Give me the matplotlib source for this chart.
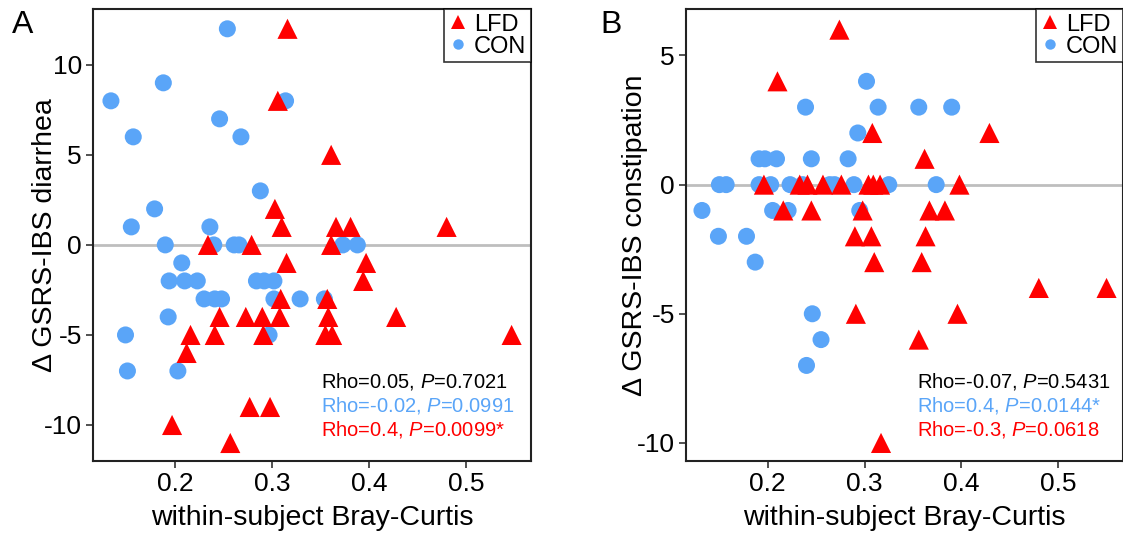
import matplotlib
matplotlib.use("Agg")
import matplotlib.pyplot as plt
from matplotlib.lines import Line2D

plt.rcParams['font.family'] = ['Liberation Sans', 'DejaVu Sans']
plt.rcParams['mathtext.fontset'] = 'custom'
plt.rcParams['mathtext.rm'] = 'Liberation Sans'
plt.rcParams['mathtext.it'] = 'Liberation Sans:italic'

# ---------- Panel A data (diarrhea) ----------
a_con_x = [0.254, 0.188, 0.134, 0.314, 0.246, 0.157, 0.268, 0.288, 0.179, 0.155,
           0.236, 0.190, 0.240, 0.261, 0.266, 0.373, 0.388, 0.207, 0.194, 0.210,
           0.223, 0.284, 0.292, 0.302, 0.230, 0.241, 0.248, 0.302, 0.329, 0.354,
           0.193, 0.149, 0.297, 0.151, 0.203]
a_con_y = [12, 9, 8, 8, 7, 6, 6, 3, 2, 1,
           1, 0, 0, 0, 0, 0, 0, -1, -2, -2,
           -2, -2, -2, -2, -3, -3, -3, -3, -3, -3,
           -4, -5, -5, -7, -7]
a_lfd_x = [0.316, 0.306, 0.361, 0.303, 0.310, 0.366, 0.381, 0.480, 0.234, 0.279,
           0.361, 0.315, 0.397, 0.394, 0.309, 0.357, 0.246, 0.273, 0.290, 0.308,
           0.358, 0.428, 0.216, 0.241, 0.291, 0.355, 0.362, 0.547, 0.212, 0.277,
           0.298, 0.197, 0.257]
a_lfd_y = [12, 8, 5, 2, 1, 1, 1, 1, 0, 0,
           0, -1, -1, -2, -3, -3, -4, -4, -4, -4,
           -4, -4, -5, -5, -5, -5, -5, -5, -6, -9,
           -9, -10, -11]

# ---------- Panel B data (constipation) ----------
b_con_x = [0.132, 0.150, 0.157, 0.149, 0.178, 0.187, 0.191, 0.197, 0.209, 0.191,
           0.203, 0.205, 0.221, 0.223, 0.236, 0.239, 0.245, 0.264, 0.269, 0.283,
           0.289, 0.293, 0.295, 0.302, 0.314, 0.325, 0.356, 0.390, 0.374, 0.246,
           0.255, 0.240]
b_con_y = [-1, 0, 0, -2, -2, -3, 1, 1, 1, 0,
           0, -1, -1, 0, 0, 3, 1, 0, 0, 1,
           0, 2, -1, 4, 3, 0, 3, 3, 0, -5,
           -6, -7]
b_lfd_x = [0.274, 0.210, 0.308, 0.429, 0.362, 0.196, 0.233, 0.241, 0.257, 0.276,
           0.304, 0.309, 0.316, 0.398, 0.216, 0.245, 0.298, 0.367, 0.383, 0.290,
           0.307, 0.363, 0.310, 0.359, 0.480, 0.550, 0.291, 0.396, 0.356, 0.317]
b_lfd_y = [6, 4, 2, 2, 1, 0, 0, 0, 0, 0,
           0, 0, 0, 0, -1, -1, -1, -1, -1, -2,
           -2, -2, -3, -3, -4, -4, -5, -5, -6, -10]

# ---------- Text ----------
panel_labels = ["A", "B"]
y_titles = ["Δ GSRS-IBS diarrhea", "Δ GSRS-IBS constipation"]
x_title = "within-subject Bray-Curtis"
stats_a = ["Rho=0.05, $\\mathit{P}$=0.7021",
           "Rho=-0.02, $\\mathit{P}$=0.0991",
           "Rho=0.4, $\\mathit{P}$=0.0099*"]
stats_b = ["Rho=-0.07, $\\mathit{P}$=0.5431",
           "Rho=0.4, $\\mathit{P}$=0.0144*",
           "Rho=-0.3, $\\mathit{P}$=0.0618"]
x_ticks = [0.2, 0.3, 0.4, 0.5]
a_yticks = [-10, -5, 0, 5, 10]
b_yticks = [-10, -5, 0, 5]

RED = "#FF0000"
BLUE = "#5AA5F8"
stat_colors = ["black", BLUE, RED]

W, H = 1123, 543
fig = plt.figure(figsize=(W / 100, H / 100), dpi=100)

def px_axes(l, t, r, b):
    return fig.add_axes([l / W, 1 - b / H, (r - l) / W, (b - t) / H])

axA = px_axes(93, 9, 531, 461)
axB = px_axes(686, 9, 1123, 461)

panels = [
    (axA, a_con_x, a_con_y, a_lfd_x, a_lfd_y, a_yticks, (-12.0, 13.1), stats_a, 0.52, -0.080),
    (axB, b_con_x, b_con_y, b_lfd_x, b_lfd_y, b_yticks, (-10.7, 6.8), stats_b, 0.529, -0.088),
]

for i, (ax, cx, cy, lx, ly, yt, ylim, stats, sx, ylx) in enumerate(panels):
    ax.axhline(0, color="#BEBEBE", lw=2, zorder=1)
    ax.scatter(cx, cy, s=150, marker="o", color=BLUE, edgecolors="none", zorder=2)
    ax.scatter(lx, ly, s=210, marker="^", color=RED, edgecolors="none", zorder=3)
    ax.set_xlim(0.1155, 0.567)
    ax.set_ylim(*ylim)
    ax.set_xticks(x_ticks)
    ax.set_xticklabels([f"{v:.1f}" for v in x_ticks])
    ax.set_yticks(yt)
    ax.set_yticklabels([str(v) for v in yt])
    ax.tick_params(direction="out", length=5, width=1.2, labelsize=19, color="#333333", pad=3)
    for s in ax.spines.values():
        s.set_linewidth(1.5)
        s.set_color("#222222")
    ax.set_xlabel(x_title, fontsize=20.5)
    ax.xaxis.set_label_coords(0.5, -0.097)
    ax.set_ylabel(y_titles[i], fontsize=20.5)
    ax.yaxis.set_label_coords(ylx, 0.5)
    for j, (txt, c) in enumerate(zip(stats, stat_colors)):
        ax.text(sx, [0.1748, 0.1217, 0.0686][j], txt, transform=ax.transAxes,
                color=c, fontsize=14.5, ha="left", va="center")
    handles = [Line2D([], [], marker="^", color=RED, ls="none", markersize=10, markeredgewidth=0),
               Line2D([], [], marker="o", color=BLUE, ls="none", markersize=7.5, markeredgewidth=0)]
    leg = ax.legend(handles, ["LFD", "CON"], loc="upper right", fontsize=17,
                    frameon=True, fancybox=False, borderaxespad=0, handletextpad=0.28,
                    handlelength=0.8, borderpad=0.2, labelspacing=0.0)
    leg.get_frame().set_edgecolor("black")
    leg.get_frame().set_linewidth(1.2)

fig.text(12 / W, 1 - 10 / H, panel_labels[0], fontsize=23, ha="left", va="top")
fig.text(600 / W, 1 - 10 / H, panel_labels[1], fontsize=23, ha="left", va="top")

fig.savefig("out.png", dpi=100)
